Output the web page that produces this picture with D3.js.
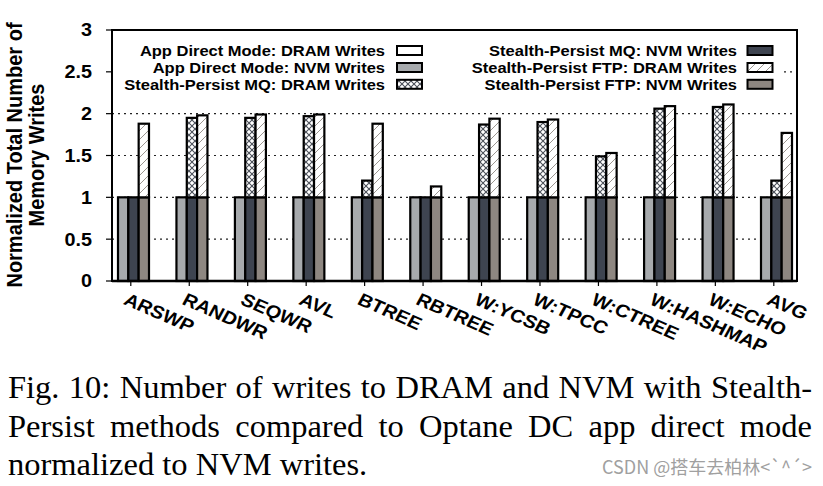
<!DOCTYPE html>
<html><head><meta charset="utf-8">
<script src="https://cdn.jsdelivr.net/npm/d3@7"></script>
<style>body{margin:0;background:#fff;} svg{display:block}</style>
</head><body>
<svg id="chart" width="823" height="486"></svg>
<script>
// ---- data ----
const categories = ["ARSWP","RANDWR","SEQWR","AVL","BTREE","RBTREE","W:YCSB","W:TPCC","W:CTREE","W:HASHMAP","W:ECHO","AVG"];
const appDirectNVM  = [1,1,1,1,1,1,1,1,1,1,1,1];
const appDirectDRAM = [0,0,0,0,0,0,0,0,0,0,0,0];
const mqNVM  = [1,1,1,1,1,1,1,1,1,1,1,1];
const mqDRAM = [0,0.95,0.95,0.97,0.20,0,0.87,0.90,0.49,1.06,1.08,0.20];
const ftpNVM  = [1,1,1,1,1,1,1,1,1,1,1,1];
const ftpDRAM = [0.88,0.98,0.99,0.99,0.88,0.13,0.94,0.93,0.53,1.09,1.11,0.77];
const yTicks = [0,0.5,1,1.5,2,2.5,3];
const yTickLabels = ["0","0.5","1","1.5","2","2.5","3"];
const gridValues = [0.5,1,1.5,2,2.5];
const legendLeft  = ["App Direct Mode: DRAM Writes","App Direct Mode: NVM Writes","Stealth-Persist MQ: DRAM Writes"];
const legendRight = ["Stealth-Persist MQ: NVM Writes","Stealth-Persist FTP: DRAM Writes","Stealth-Persist FTP: NVM Writes"];
const yTitleLines = ["Normalized Total Number of","Memory Writes"];
const captionLines = ["Fig. 10: Number of writes to DRAM and NVM with Stealth-","Persist methods compared to Optane DC app direct mode","normalized to NVM writes."];
const watermark = "CSDN @搭车去柏林<`^´>";

// ---- setup ----
const svg = d3.select("#chart");
const SX = 1.1;
const sansB = "'Liberation Sans', Arial, Helvetica, sans-serif";
const plot = {l:112, r:797, t:30, b:281};
const x = d3.scalePoint().domain(categories).range([133.5, 776.5]);
const methods = ["ad","mq","ftp"];
const off = d3.scaleBand().domain(methods).range([-15.5, 15.5]);
const y = d3.scaleLinear().domain([0,3]).range([plot.b, plot.t]);

const fills = {adNVM:"#a7aaad", adDRAM:"#ffffff", mqNVM:"#3e4450", mqDRAM:"url(#xhatch)", ftpNVM:"#8e8781", ftpDRAM:"url(#hatch)"};

// patterns
const defs = svg.append("defs");
const xp = defs.append("pattern").attr("id","xhatch").attr("patternUnits","userSpaceOnUse").attr("width",6).attr("height",6);
xp.append("rect").attr("width",6).attr("height",6).attr("fill","#fff");
xp.append("path").attr("d","M0,0L6,6M6,0L0,6").attr("stroke","#4a4f58").attr("stroke-width",1.1);
const hp = defs.append("pattern").attr("id","hatch").attr("patternUnits","userSpaceOnUse").attr("width",9).attr("height",9);
hp.append("rect").attr("width",9).attr("height",9).attr("fill","#fff");
hp.append("path").attr("d","M0,9L9,0M-2,2L2,-2M7,11L11,7").attr("stroke","#9a9590").attr("stroke-width",1);

// gridlines
svg.append("g").selectAll("line").data(gridValues).join("line")
  .attr("x1",plot.l).attr("x2",plot.r).attr("y1",d=>y(d)).attr("y2",d=>y(d))
  .attr("stroke","#222").attr("stroke-width",1.2).attr("stroke-dasharray","2,4");

// legend background
svg.append("rect").attr("x",plot.l+1).attr("y",37).attr("width",669).attr("height",56).attr("fill","#fff");

// bars
const series = [
  {m:"ad", nvm:appDirectNVM, dram:appDirectDRAM, fn:fills.adNVM, fd:fills.adDRAM},
  {m:"mq", nvm:mqNVM, dram:mqDRAM, fn:fills.mqNVM, fd:fills.mqDRAM},
  {m:"ftp", nvm:ftpNVM, dram:ftpDRAM, fn:fills.ftpNVM, fd:fills.ftpDRAM}
];
const barG = svg.append("g");
series.forEach(s => {
  const g = barG.append("g");
  g.selectAll("rect.nvm").data(categories).join("rect").attr("class","nvm")
    .attr("x",(c)=>x(c)+off(s.m)).attr("width",off.bandwidth())
    .attr("y",(c,i)=>y(s.nvm[i])).attr("height",(c,i)=>y(0)-y(s.nvm[i]))
    .attr("fill",s.fn).attr("stroke","#000").attr("stroke-width",2.2);
  g.selectAll("rect.dram").data(categories.filter((c,i)=>s.dram[i]>0)).join("rect").attr("class","dram")
    .attr("x",(c)=>x(c)+off(s.m)).attr("width",off.bandwidth())
    .attr("y",(c)=>{const i=categories.indexOf(c);return y(s.nvm[i]+s.dram[i]);})
    .attr("height",(c)=>{const i=categories.indexOf(c);return y(s.nvm[i])-y(s.nvm[i]+s.dram[i]);})
    .attr("fill",s.fd).attr("stroke","#000").attr("stroke-width",2.2);
});

// frame
svg.append("rect").attr("x",plot.l).attr("y",plot.t).attr("width",plot.r-plot.l).attr("height",plot.b-plot.t)
  .attr("fill","none").attr("stroke","#000").attr("stroke-width",2);
svg.append("line").attr("x1",plot.l).attr("x2",plot.r).attr("y1",plot.b).attr("y2",plot.b).attr("stroke","#000").attr("stroke-width",2.6);

// y axis ticks + labels
const yg = svg.append("g");
yg.selectAll("line").data(yTicks).join("line")
  .attr("x1",plot.l-6).attr("x2",plot.l).attr("y1",d=>y(d)).attr("y2",d=>y(d)).attr("stroke","#000").attr("stroke-width",1.2);
yg.selectAll("text").data(yTicks).join("text")
  .attr("transform",d=>`translate(92,${y(d)}) scale(${SX},1)`)
  .attr("dy","0.36em").attr("text-anchor","end")
  .style("font-family",sansB).style("font-weight","bold").style("font-size","18px")
  .text((d,i)=>yTickLabels[i]);

// y title
yTitleLines.forEach((t,i)=>{
  svg.append("text").attr("transform",`translate(${22 + i*21.6},155) scale(${SX},1) rotate(-90)`)
    .attr("text-anchor","middle")
    .style("font-family",sansB).style("font-weight","bold").style("font-size","20px").text(t);
});

// x ticks + labels
const tickShift = -2.7;
const xg = svg.append("g");
xg.selectAll("line").data(categories).join("line")
  .attr("x1",c=>x(c)+tickShift).attr("x2",c=>x(c)+tickShift).attr("y1",plot.b).attr("y2",plot.b+5)
  .attr("stroke","#000").attr("stroke-width",1.2);
xg.selectAll("text").data(categories).join("text")
  .attr("transform",c=>`translate(${x(c)+tickShift-2},292) scale(1.12,1) rotate(26)`)
  .attr("dy","0.72em").attr("text-anchor","start")
  .style("font-family",sansB).style("font-weight","bold").style("font-size","18px")
  .text(c=>c);

// legend
const rowY = [50.5, 67.5, 84.3];
function legendCol(labels, textRight, swX, fillsArr){
  labels.forEach((t,i)=>{
    svg.append("text").attr("transform",`translate(${textRight},${rowY[i]}) scale(${SX},1)`)
      .attr("dy","0.36em").attr("text-anchor","end")
      .style("font-family",sansB).style("font-weight","bold").style("font-size","15px").text(t);
    svg.append("rect").attr("x",swX).attr("y",rowY[i]-4.5).attr("width",25).attr("height",9)
      .attr("fill",fillsArr[i]).attr("stroke","#000").attr("stroke-width",2);
  });
}
legendCol(legendLeft, 385, 397, [fills.adDRAM, fills.adNVM, fills.mqDRAM]);
legendCol(legendRight, 737, 747.5, [fills.mqNVM, fills.ftpDRAM, fills.ftpNVM]);

// caption
const capFont = "'Liberation Serif', 'Times New Roman', Times, serif";
const capBase = [398, 437, 475];
captionLines.forEach((t,i)=>{
  const tx = svg.append("text").attr("x",8).attr("y",capBase[i])
    .style("font-family",capFont).style("font-size","32.5px").attr("fill","#000").text(t);
  if (i < 2) {
    const w = tx.node().getComputedTextLength();
    const spaces = (t.match(/ /g)||[]).length;
    tx.style("word-spacing", ((804 - w)/spaces) + "px");
  }
});
svg.append("text").attr("x",812).attr("y",474).attr("text-anchor","end")
  .style("font-family","'Noto Sans CJK SC', 'Noto Sans', sans-serif").style("font-size","18px")
  .attr("fill","#a0a0a0").text(watermark);
</script>
</body></html>
